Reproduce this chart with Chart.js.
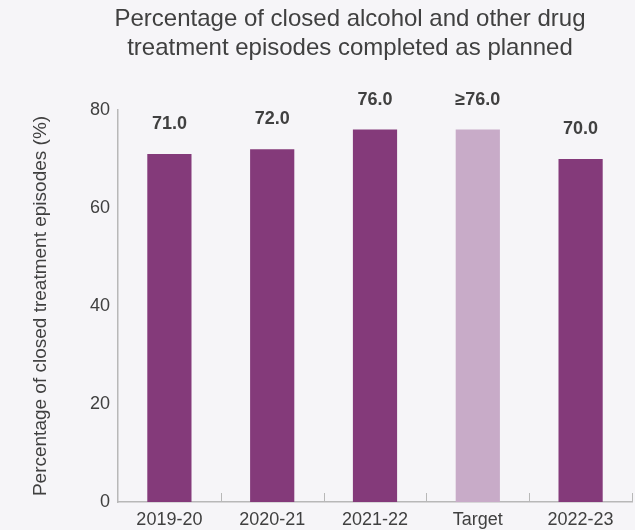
<!DOCTYPE html>
<html>
<head>
<meta charset="utf-8">
<script src="https://cdn.jsdelivr.net/npm/chart.js@4"></script>
<style>
    html, body { margin: 0; padding: 0; background: #f6f5f8; }
    #wrap { position: relative; width: 635px; height: 530px; }
    #title {
        position: absolute; left: 50px; top: 3px; width: 600px;
        text-align: center; font-family: "Liberation Sans", Arial, sans-serif;
        font-size: 24px; line-height: 29px; color: #404040;
    }
</style>
</head>
<body>
<div id="wrap">
    <div id="title">Percentage of closed alcohol and other drug<br>treatment episodes completed as planned</div>
    <canvas id="chart" width="635" height="530"></canvas>
</div>
<script>
// Ma'lumotlar
const categories = ['2019-20', '2020-21', '2021-22', 'Target', '2022-23'];
const values = [71.0, 72.0, 76.0, 76.0, 70.0];
const valueLabels = ['71.0', '72.0', '76.0', '≥76.0', '70.0'];
const yTicks = [0, 20, 40, 60, 80];

const barColor = '#843a7a';
const targetColor = '#c8abc8';
const textColor = '#404040';
const axisColor = '#b8b8b8';
const font = '"Liberation Sans", Arial, sans-serif';

// Qiymat yorliqlari va kategoriya chegaralaridagi chiziqlar
const extrasPlugin = {
    id: 'extras',
    afterDatasetsDraw(chart) {
        const ctx = chart.ctx;
        const meta = chart.getDatasetMeta(0);
        ctx.save();
        ctx.fillStyle = textColor;
        ctx.font = 'bold 18px ' + font;
        ctx.textAlign = 'center';
        ctx.textBaseline = 'middle';
        meta.data.forEach((bar, i) => {
            ctx.fillText(valueLabels[i], bar.x, bar.y - 30);
        });

        const x = chart.scales.x;
        const bottom = chart.chartArea.bottom;
        ctx.strokeStyle = axisColor;
        ctx.lineWidth = 1;
        for (let i = 0; i < categories.length; i++) {
            const px = Math.round(x.getPixelForValue(i + 0.5)) + 0.5;
            ctx.beginPath();
            ctx.moveTo(px, bottom);
            ctx.lineTo(px, bottom - 9);
            ctx.stroke();
        }
        ctx.restore();
    }
};

new Chart(document.getElementById('chart'), {
    type: 'bar',
    data: {
        labels: categories,
        datasets: [{
            data: values,
            backgroundColor: categories.map(c => c === 'Target' ? targetColor : barColor),
            barPercentage: 0.43,
            categoryPercentage: 1
        }]
    },
    options: {
        responsive: false,
        animation: false,
        layout: { padding: { top: 110, right: 3, bottom: 0, left: 0 } },
        plugins: {
            legend: { display: false },
            tooltip: { enabled: false }
        },
        scales: {
            x: {
                grid: { display: false, drawTicks: false },
                border: { display: true, color: axisColor, width: 1.5 },
                ticks: { color: textColor, font: { family: font, size: 18 }, padding: 7 },
                afterFit: s => { s.height = 28; }
            },
            y: {
                min: 0,
                max: 80,
                afterBuildTicks: s => { s.ticks = yTicks.map(v => ({ value: v })); },
                grid: { display: false, drawTicks: false },
                border: { display: true, color: axisColor, width: 1.5 },
                ticks: { color: textColor, font: { family: font, size: 18 }, padding: 8 },
                title: {
                    display: true,
                    text: 'Percentage of closed treatment episodes (%)',
                    color: textColor,
                    font: { family: font, size: 19 },
                    padding: { top: 29, bottom: 0 }
                },
                afterFit: s => { s.width = 118; }
            }
        }
    },
    plugins: [extrasPlugin]
});
</script>
</body>
</html>
